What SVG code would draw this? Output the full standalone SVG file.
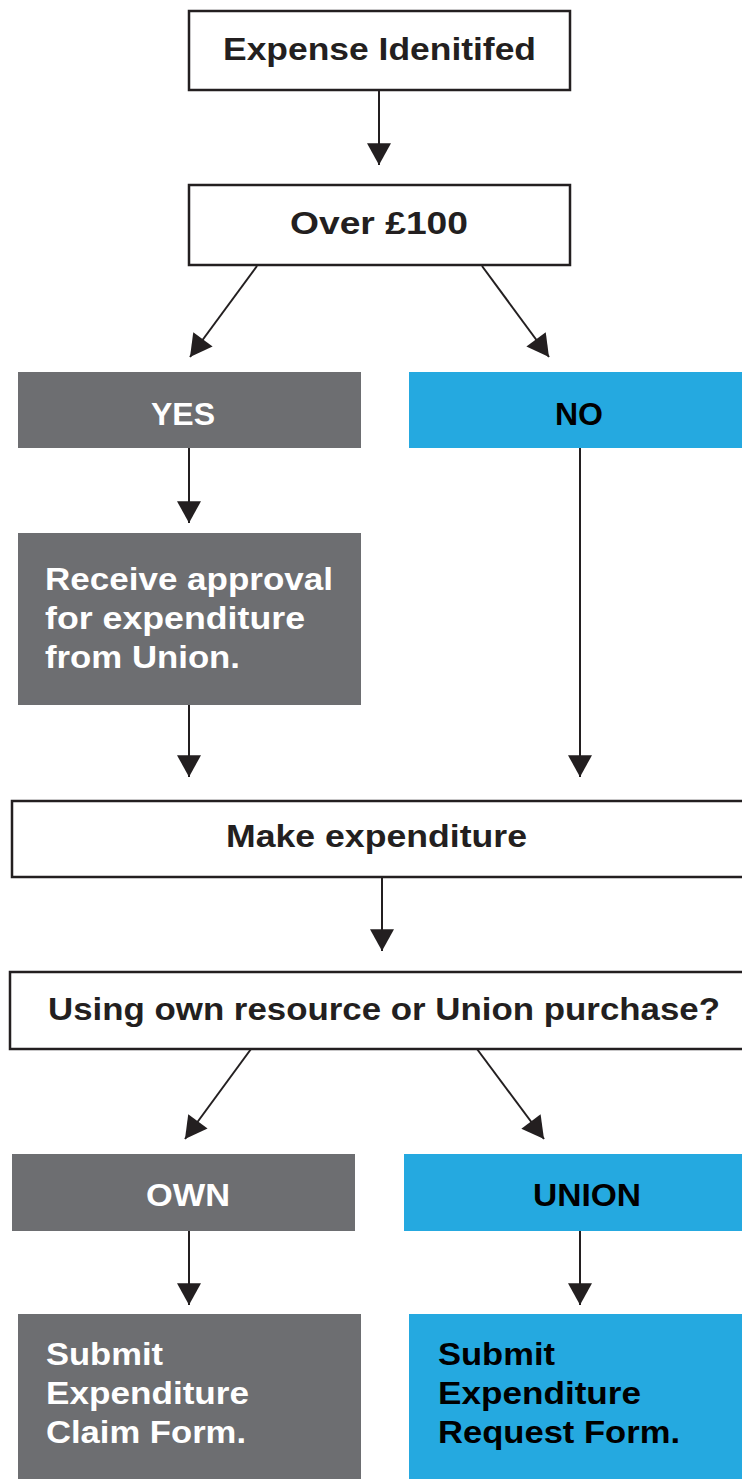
<svg xmlns="http://www.w3.org/2000/svg" width="742" height="1479" viewBox="0 0 742 1479">
<defs>
<marker id="ah" markerUnits="userSpaceOnUse" markerWidth="24" markerHeight="24" viewBox="0 0 20 22" refX="20" refY="11" orient="auto">
<path d="M0,0 L20,11 L0,22 Z" fill="#231f20"/>
</marker>
</defs>
<style>
.wb{fill:#ffffff;stroke:#231f20;stroke-width:2.5}
.gy{fill:#6d6e71}
.bl{fill:#25a9e0}
text{font-family:"Liberation Sans",Arial,sans-serif;font-weight:bold;font-size:32px}
.dk{fill:#231f20}
.wt{fill:#ffffff}
.k{fill:#000000}
.cn line{stroke:#231f20;stroke-width:2;marker-end:url(#ah)}
</style>
<g id="n1"><rect class="wb" x="189" y="11" width="381" height="79"/><text class="dk" x="223" y="60" textLength="313" lengthAdjust="spacingAndGlyphs">Expense Idenitifed</text></g>
<g id="n2"><rect class="wb" x="189" y="185" width="381" height="80"/><text class="dk" x="290" y="234" textLength="178" lengthAdjust="spacingAndGlyphs">Over £100</text></g>
<g id="n3"><rect class="gy" x="18" y="372" width="343" height="76"/><text class="wt" x="151" y="425" textLength="64" lengthAdjust="spacingAndGlyphs">YES</text></g>
<g id="n4"><rect class="bl" x="409" y="372" width="333" height="76"/><text class="k" x="555" y="425" textLength="48" lengthAdjust="spacingAndGlyphs">NO</text></g>
<g id="n5"><rect class="gy" x="18" y="533" width="343" height="172"/>
<text class="wt" x="45" y="590" textLength="288" lengthAdjust="spacingAndGlyphs">Receive approval</text>
<text class="wt" x="45" y="629" textLength="260" lengthAdjust="spacingAndGlyphs">for expenditure</text>
<text class="wt" x="45" y="668" textLength="195" lengthAdjust="spacingAndGlyphs">from Union.</text></g>
<g id="n6"><rect class="wb" x="12" y="801" width="740" height="76"/><text class="dk" x="226" y="847" textLength="301" lengthAdjust="spacingAndGlyphs">Make expenditure</text></g>
<g id="n7"><rect class="wb" x="10" y="972" width="742" height="77"/><text class="dk" x="48" y="1020" textLength="672" lengthAdjust="spacingAndGlyphs">Using own resource or Union purchase?</text></g>
<g id="n8"><rect class="gy" x="12" y="1154" width="343" height="77"/><text class="wt" x="146" y="1206" textLength="84" lengthAdjust="spacingAndGlyphs">OWN</text></g>
<g id="n9"><rect class="bl" x="404" y="1154" width="338" height="77"/><text class="k" x="533" y="1206" textLength="108" lengthAdjust="spacingAndGlyphs">UNION</text></g>
<g id="n10"><rect class="gy" x="18" y="1314" width="343" height="165"/>
<text class="wt" x="46" y="1365" textLength="117" lengthAdjust="spacingAndGlyphs">Submit</text>
<text class="wt" x="46" y="1404" textLength="203" lengthAdjust="spacingAndGlyphs">Expenditure</text>
<text class="wt" x="46" y="1443" textLength="200" lengthAdjust="spacingAndGlyphs">Claim Form.</text></g>
<g id="n11"><rect class="bl" x="409" y="1314" width="333" height="165"/>
<text class="k" x="438" y="1365" textLength="117" lengthAdjust="spacingAndGlyphs">Submit</text>
<text class="k" x="438" y="1404" textLength="203" lengthAdjust="spacingAndGlyphs">Expenditure</text>
<text class="k" x="438" y="1443" textLength="242" lengthAdjust="spacingAndGlyphs">Request Form.</text></g>
<g id="connectors" class="cn">
<line x1="379" y1="91" x2="379" y2="165"/>
<line x1="257" y1="266" x2="190" y2="357"/>
<line x1="482" y1="266" x2="549" y2="357"/>
<line x1="189" y1="448" x2="189" y2="523"/>
<line x1="189" y1="705" x2="189" y2="777"/>
<line x1="580" y1="448" x2="580" y2="777"/>
<line x1="382" y1="877" x2="382" y2="951"/>
<line x1="251" y1="1049" x2="185" y2="1139"/>
<line x1="477" y1="1049" x2="544" y2="1139"/>
<line x1="189" y1="1231" x2="189" y2="1305"/>
<line x1="580" y1="1231" x2="580" y2="1305"/>
</g>
</svg>
